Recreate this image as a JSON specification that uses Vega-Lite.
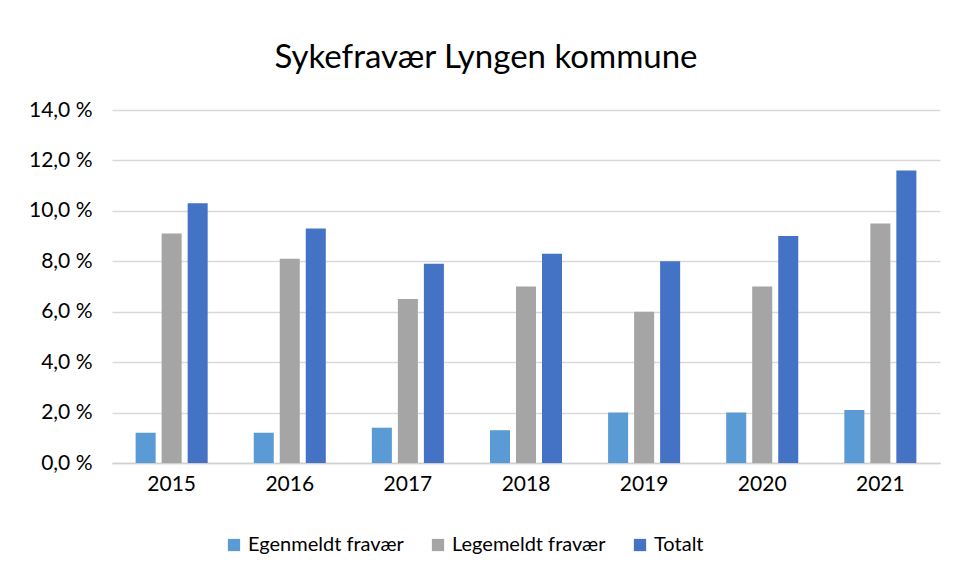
{
  "$schema": "https://vega.github.io/schema/vega-lite/v6.json",
  "width": 828,
  "height": 353,
  "autosize": {"type": "none"},
  "padding": {"left": 112, "top": 110, "right": 19, "bottom": 118},
  "background": "white",
  "title": {
    "text": "Sykefravær Lyngen kommune",
    "fontSize": 33,
    "fontWeight": "normal",
    "font": "Lato",
    "color": "#000000",
    "anchor": "middle",
    "dx": -40,
    "offset": 24
  },
  "data": {
    "values": [
      {"year": "2015", "type": "Egenmeldt fravær", "value": 1.2},
      {"year": "2015", "type": "Legemeldt fravær", "value": 9.1},
      {"year": "2015", "type": "Totalt", "value": 10.3},
      {"year": "2016", "type": "Egenmeldt fravær", "value": 1.2},
      {"year": "2016", "type": "Legemeldt fravær", "value": 8.1},
      {"year": "2016", "type": "Totalt", "value": 9.3},
      {"year": "2017", "type": "Egenmeldt fravær", "value": 1.4},
      {"year": "2017", "type": "Legemeldt fravær", "value": 6.5},
      {"year": "2017", "type": "Totalt", "value": 7.9},
      {"year": "2018", "type": "Egenmeldt fravær", "value": 1.3},
      {"year": "2018", "type": "Legemeldt fravær", "value": 7.0},
      {"year": "2018", "type": "Totalt", "value": 8.3},
      {"year": "2019", "type": "Egenmeldt fravær", "value": 2.0},
      {"year": "2019", "type": "Legemeldt fravær", "value": 6.0},
      {"year": "2019", "type": "Totalt", "value": 8.0},
      {"year": "2020", "type": "Egenmeldt fravær", "value": 2.0},
      {"year": "2020", "type": "Legemeldt fravær", "value": 7.0},
      {"year": "2020", "type": "Totalt", "value": 9.0},
      {"year": "2021", "type": "Egenmeldt fravær", "value": 2.1},
      {"year": "2021", "type": "Legemeldt fravær", "value": 9.5},
      {"year": "2021", "type": "Totalt", "value": 11.6}
    ]
  },
  "mark": {"type": "bar"},
  "encoding": {
    "x": {
      "field": "year",
      "type": "nominal",
      "scale": {"paddingInner": 0.39, "paddingOuter": 0.2},
      "axis": {
        "title": null,
        "labelAngle": 0,
        "labelFont": "Lato",
        "labelFontSize": 21,
        "labelColor": "#000000",
        "labelPadding": 10,
        "ticks": false,
        "domainColor": "#D0D0D0",
        "domainWidth": 1.5
      }
    },
    "xOffset": {
      "field": "type",
      "type": "nominal",
      "scale": {"paddingInner": 0.23, "paddingOuter": 0}
    },
    "y": {
      "field": "value",
      "type": "quantitative",
      "scale": {"domain": [0, 14], "nice": false},
      "axis": {
        "title": null,
        "values": [0, 2, 4, 6, 8, 10, 12, 14],
        "labelExpr": "replace(format(datum.value, '.1f'), '.', ',') + ' %'",
        "labelFont": "Lato",
        "labelFontSize": 21,
        "labelColor": "#000000",
        "labelPadding": 20,
        "ticks": false,
        "domain": false,
        "gridColor": "#D9D9D9",
        "gridWidth": 1.3
      }
    },
    "color": {
      "field": "type",
      "type": "nominal",
      "scale": {
        "domain": ["Egenmeldt fravær", "Legemeldt fravær", "Totalt"],
        "range": ["#5B9BD5", "#A5A5A5", "#4472C4"]
      },
      "legend": {
        "title": null,
        "orient": "none",
        "direction": "horizontal",
        "legendX": 112,
        "legendY": 425,
        "symbolType": "square",
        "symbolSize": 150,
        "symbolStrokeWidth": 0,
        "labelFont": "Lato",
        "labelFontSize": 20,
        "labelColor": "#000000",
        "labelOffset": 4,
        "columnPadding": 24
      }
    }
  },
  "config": {
    "view": {"stroke": null}
  }
}
